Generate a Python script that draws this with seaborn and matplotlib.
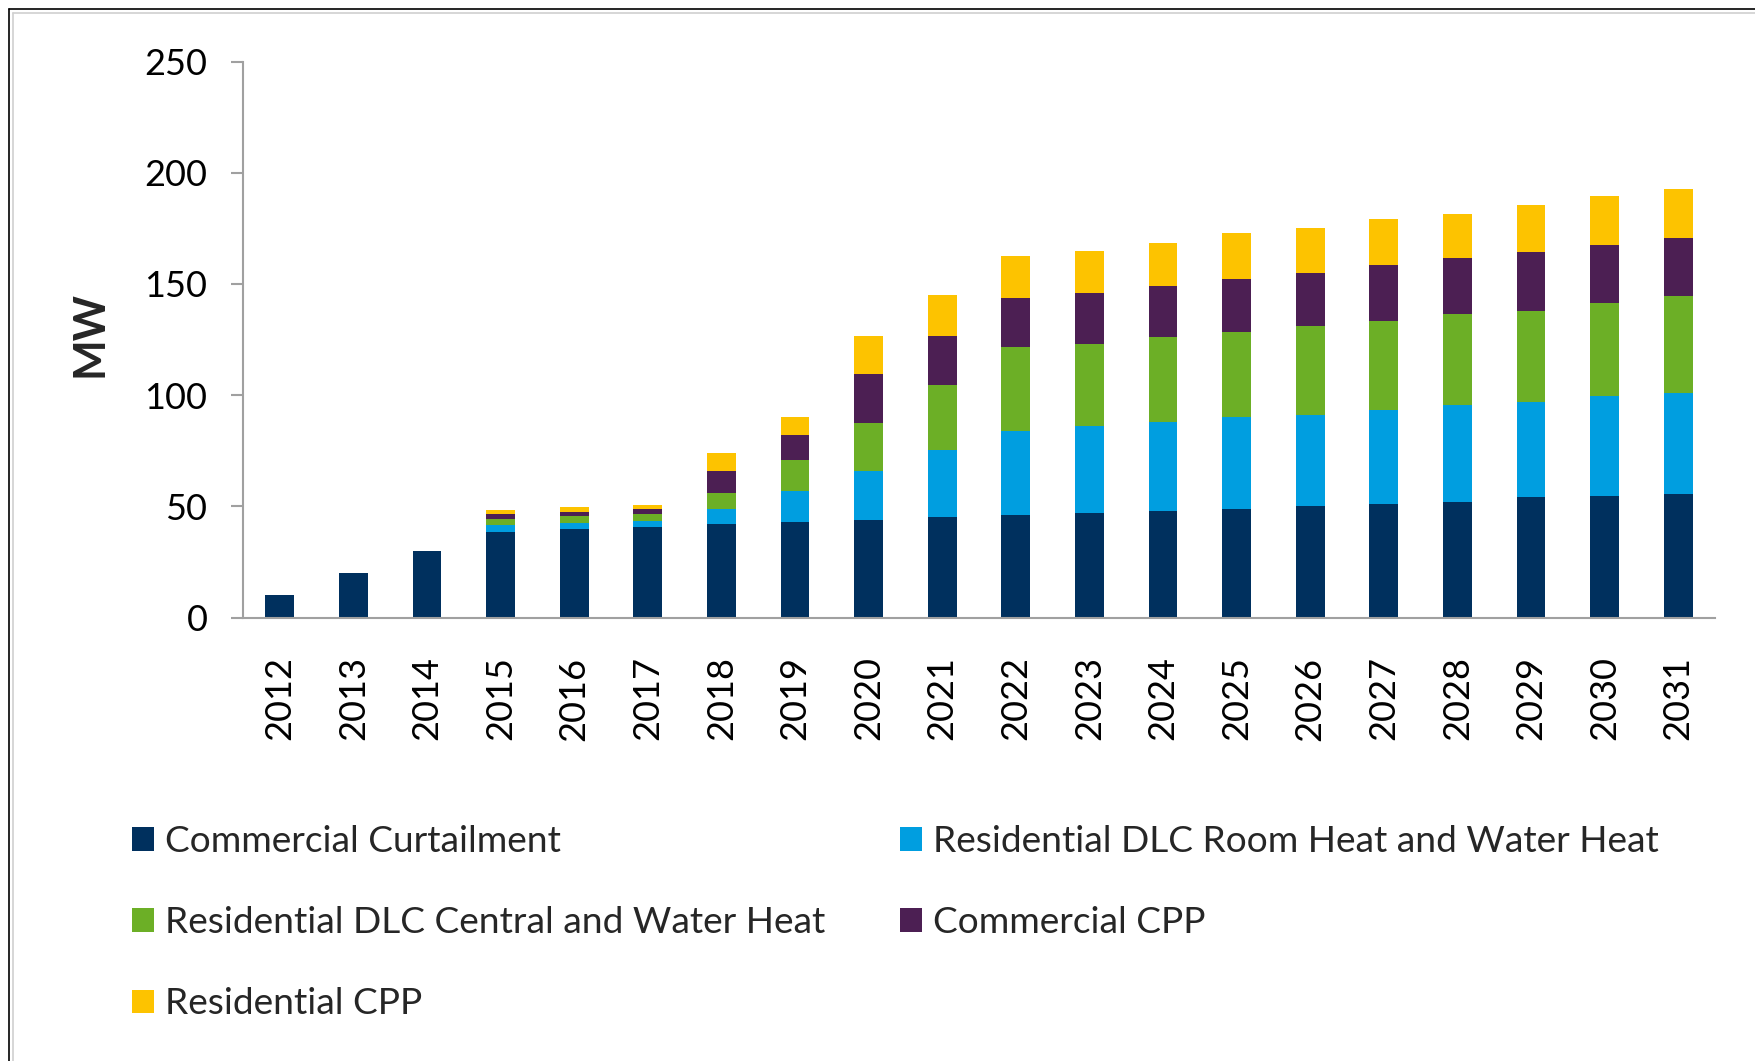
import numpy as np
import pandas as pd
import matplotlib
matplotlib.use("Agg")
import matplotlib.pyplot as plt
from matplotlib.patches import Patch
from matplotlib.lines import Line2D
import seaborn as sns

years = [str(y) for y in range(2012, 2032)]
commercial_curtailment = [10, 20, 30, 38.5, 39.6, 40.6, 42, 43, 44, 45, 46, 47, 48, 48.7, 50, 51, 52, 54, 54.5, 55.5]
res_dlc_room = [0, 0, 0, 3, 3, 3, 7, 14, 22, 30.5, 38, 39, 40, 41.4, 41, 42.5, 43.5, 43, 45, 45.5]
res_dlc_central = [0, 0, 0, 3, 3, 3, 7, 14, 21.5, 29, 37.5, 37, 38, 38.3, 40, 40, 41, 41, 42, 43.5]
commercial_cpp = [0, 0, 0, 2, 2, 2, 10, 11, 22, 22, 22, 23, 23, 23.9, 24, 25, 25, 26.5, 26, 26]
residential_cpp = [0, 0, 0, 2, 2, 2, 8, 8, 17.3, 18.5, 19, 19, 19.5, 20.4, 20, 20.5, 20, 21, 22, 22]

series_names = ["Commercial Curtailment",
                "Residential DLC Room Heat and Water Heat",
                "Residential DLC Central and Water Heat",
                "Commercial CPP",
                "Residential CPP"]
series_values = [commercial_curtailment, res_dlc_room, res_dlc_central, commercial_cpp, residential_cpp]
colors = ["#00305E", "#009EE0", "#6CAF26", "#4C1F53", "#FDC300"]

sns.set_theme(style="white")
plt.rcParams['font.family'] = ['Lato', 'DejaVu Sans']

W, H = 1756, 1061
fig = plt.figure(figsize=(W / 100, H / 100), dpi=100)
ax = fig.add_axes([243 / W, 1 - 617.5 / H, (1715 - 243) / W, (617.5 - 61.6) / H])

cum = np.cumsum(np.array(series_values, dtype=float), axis=0)
# draw from top of stack down so each lower segment covers the one above
for i in range(len(series_names) - 1, -1, -1):
    df = pd.DataFrame({"year": years, "value": cum[i]})
    sns.barplot(data=df, x="year", y="value", color=colors[i], saturation=1,
                width=0.39, linewidth=0, errorbar=None, ax=ax, order=years)

ax.set_xlim(-0.5, len(years) - 0.5)
ax.set_ylim(0, 250)
ax.set_yticks([0, 50, 100, 150, 200, 250])
ax.set_xlabel("")
ax.set_ylabel("MW", fontsize=31, fontweight="bold", labelpad=0)
ax.yaxis.set_label_coords(-0.0905, 0.51)

for s in ["top", "right"]:
    ax.spines[s].set_visible(False)
for s in ["left", "bottom"]:
    ax.spines[s].set_color("#A0A0A0")
    ax.spines[s].set_linewidth(1.5)

ax.tick_params(axis="y", direction="out", length=8.6, width=1.5, color="#A0A0A0",
               labelsize=26, pad=17, labelcolor="black", left=True)
ax.tick_params(axis="x", length=0, labelsize=26, pad=28, labelcolor="black", rotation=90)
for lab in ax.get_xticklabels():
    lab.set_va("top")

handles = [Patch(facecolor=c, edgecolor="none") for c in colors]
order = [0, 2, 4, 1, 3]
fig.legend([handles[i] for i in order], [series_names[i] for i in order],
           loc="upper left", bbox_to_anchor=(132 / W, 1 - 825 / H), ncol=2,
           frameon=False, fontsize=26.7, handlelength=0.6, handleheight=0.6,
           handletextpad=0.3, columnspacing=2.0, labelspacing=1.3,
           borderpad=0, borderaxespad=0)

# outer chart border (left and top)
fig.add_artist(Line2D([9 / W, 9 / W], [0, 1 - 9 / H], color="black", lw=1.2, transform=fig.transFigure))
fig.add_artist(Line2D([9 / W, 1], [1 - 9 / H, 1 - 9 / H], color="black", lw=1.2, transform=fig.transFigure))
fig.add_artist(Line2D([13 / W, 13 / W], [0, 1 - 13 / H], color="#D0D0D0", lw=1.2, transform=fig.transFigure))
fig.add_artist(Line2D([13 / W, 1], [1 - 13 / H, 1 - 13 / H], color="#D0D0D0", lw=1.2, transform=fig.transFigure))

fig.savefig("out.png", dpi=100)
